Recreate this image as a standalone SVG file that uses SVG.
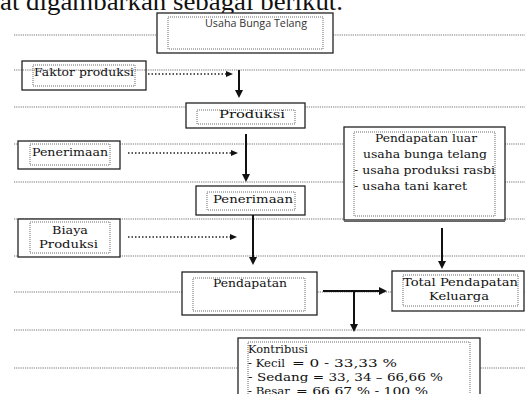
<svg xmlns="http://www.w3.org/2000/svg" width="525" height="394" viewBox="0 0 525 394">
<defs>
<style>
.bg{fill:#fff}
.rule{stroke:#666;stroke-width:0.9;stroke-dasharray:1.2 1;fill:none}
.outer{fill:#fff;stroke:#222;stroke-width:1.3}
.outern{fill:none;stroke:#222;stroke-width:1.3}
.inner{fill:none;stroke:#444;stroke-width:0.8;stroke-dasharray:1 1}
.t{font-family:"DejaVu Serif","Liberation Serif",serif;font-size:11px;fill:#111}
.tk{font-family:"DejaVu Serif","Liberation Serif",serif;font-size:10.5px;fill:#111}
.ts{font-family:"Open Sans","Liberation Sans",sans-serif;font-size:10px;fill:#333}
.thick{stroke:#111;stroke-width:2;fill:none}
.dot{stroke:#222;stroke-width:1.5;stroke-dasharray:1.5 2;fill:none}
</style>
<marker id="ah" markerUnits="userSpaceOnUse" markerWidth="10" markerHeight="10" refX="0" refY="4" orient="auto"><path d="M0,0 L8,4 L0,8 z" fill="#111"/></marker>
<marker id="ahs" markerUnits="userSpaceOnUse" markerWidth="10" markerHeight="8" refX="0" refY="3" orient="auto"><path d="M0,0 L7,3 L0,6 z" fill="#111"/></marker>
</defs>
<rect class="bg" x="0" y="0" width="525" height="394"/>
<text x="0" y="10" font-family="Liberation Serif, serif" font-size="26" fill="#111" textLength="343" lengthAdjust="spacingAndGlyphs">at digambarkan sebagai berikut.</text>
<g id="rules">
<line class="rule" x1="14" y1="35" x2="525" y2="35"/>
<line class="rule" x1="14" y1="70" x2="525" y2="70"/>
<line class="rule" x1="14" y1="107" x2="525" y2="107"/>
<line class="rule" x1="14" y1="144" x2="525" y2="144"/>
<line class="rule" x1="14" y1="182" x2="525" y2="182"/>
<line class="rule" x1="14" y1="219" x2="525" y2="219"/>
<line class="rule" x1="14" y1="256" x2="525" y2="256"/>
<line class="rule" x1="14" y1="292" x2="525" y2="292"/>
<line class="rule" x1="14" y1="330" x2="525" y2="330"/>
<line class="rule" x1="14" y1="368" x2="525" y2="368"/>
</g>
<g id="n-usaha">
<rect class="outer" x="157" y="13" width="176" height="40"/>
<rect class="inner" x="168" y="17" width="155" height="32"/>
<text class="ts" x="205" y="27" textLength="102" lengthAdjust="spacingAndGlyphs">Usaha Bunga Telang</text>
</g>
<g id="n-faktor">
<rect class="outern" x="22" y="61" width="124" height="29"/>
<rect class="inner" x="33" y="65" width="102" height="21"/>
<text class="t" x="34" y="76" textLength="100" lengthAdjust="spacingAndGlyphs">Faktor produksi</text>
</g>
<g id="n-produksi">
<rect class="outer" x="186" y="103" width="119" height="25"/>
<rect class="inner" x="197" y="110" width="98" height="14"/>
<text class="t" x="219" y="118" textLength="66" lengthAdjust="spacingAndGlyphs">Produksi</text>
</g>
<g id="n-penerimaan-in">
<rect class="outer" x="18" y="141" width="102" height="28"/>
<rect class="inner" x="30" y="144" width="80" height="21"/>
<text class="t" x="32" y="156" textLength="76" lengthAdjust="spacingAndGlyphs">Penerimaan</text>
</g>
<g id="n-penerimaan">
<rect class="outer" x="196" y="186" width="109" height="29"/>
<rect class="inner" x="207" y="192" width="88" height="18"/>
<text class="t" x="213" y="203" textLength="80" lengthAdjust="spacingAndGlyphs">Penerimaan</text>
</g>
<g id="n-biaya">
<rect class="outer" x="18" y="219" width="102" height="38"/>
<rect class="inner" x="30" y="222" width="80" height="31"/>
<text class="t" x="52" y="234" textLength="36" lengthAdjust="spacingAndGlyphs">Biaya</text>
<text class="t" x="39" y="248" textLength="59" lengthAdjust="spacingAndGlyphs">Produksi</text>
</g>
<g id="n-luar">
<rect class="outer" x="344" y="127" width="161" height="93"/>
<line x1="344" y1="221.5" x2="505" y2="221.5" stroke="#666" stroke-width="1"/>
<rect class="inner" x="354" y="132" width="141" height="84"/>
<text class="t" x="375" y="142" textLength="102" lengthAdjust="spacingAndGlyphs">Pendapatan luar</text>
<text class="t" x="363" y="158" textLength="124" lengthAdjust="spacingAndGlyphs">usaha bunga telang</text>
<text class="t" x="354" y="174" textLength="141" lengthAdjust="spacingAndGlyphs">- usaha produksi rasbi</text>
<text class="t" x="354" y="190" textLength="113" lengthAdjust="spacingAndGlyphs">- usaha tani karet</text>
</g>
<g id="n-pendapatan">
<rect class="outer" x="182" y="272" width="135" height="43"/>
<rect class="inner" x="193" y="278" width="112" height="33"/>
<text class="t" x="213" y="287" textLength="74" lengthAdjust="spacingAndGlyphs">Pendapatan</text>
</g>
<g id="n-total">
<rect class="outer" x="392" y="271" width="132" height="40"/>
<rect class="inner" x="403" y="275" width="115" height="31"/>
<text class="t" x="403" y="286" textLength="115" lengthAdjust="spacingAndGlyphs">Total Pendapatan</text>
<text class="t" x="429" y="300" textLength="60" lengthAdjust="spacingAndGlyphs">Keluarga</text>
</g>
<g id="n-kontribusi">
<rect class="outer" x="238" y="338" width="242" height="70"/>
<rect class="inner" x="248" y="342" width="222" height="60"/>
<text class="tk" x="248" y="353" textLength="60" lengthAdjust="spacingAndGlyphs">Kontribusi</text>
<text class="tk" x="248" y="367" textLength="37" lengthAdjust="spacingAndGlyphs">- Kecil</text>
<text class="tk" x="292" y="367" textLength="105" lengthAdjust="spacingAndGlyphs">= 0 - 33,33 %</text>
<text class="tk" x="248" y="381" textLength="195" lengthAdjust="spacingAndGlyphs">- Sedang = 33, 34 – 66,66 %</text>
<text class="tk" x="248" y="395" textLength="42" lengthAdjust="spacingAndGlyphs">- Besar</text>
<text class="tk" x="296" y="395" textLength="132" lengthAdjust="spacingAndGlyphs">= 66,67 % - 100 %</text>
</g>
<g id="connectors">
<line class="dot" x1="148" y1="74" x2="226" y2="74" marker-end="url(#ahs)"/>
<line class="dot" x1="128" y1="153" x2="231" y2="153" marker-end="url(#ahs)"/>
<line class="dot" x1="128" y1="237" x2="230" y2="237" marker-end="url(#ahs)"/>
<line class="thick" x1="239" y1="70" x2="239" y2="90" marker-end="url(#ah)"/>
<line class="thick" x1="246" y1="134" x2="246" y2="174" marker-end="url(#ah)"/>
<line class="thick" x1="253" y1="215" x2="253" y2="257" marker-end="url(#ah)"/>
<line class="thick" x1="442" y1="228" x2="442" y2="261" marker-end="url(#ah)"/>
<line class="thick" x1="323" y1="291" x2="379" y2="291" marker-end="url(#ah)"/>
<line class="thick" x1="354" y1="291" x2="354" y2="324" marker-end="url(#ah)"/>
</g>
</svg>
